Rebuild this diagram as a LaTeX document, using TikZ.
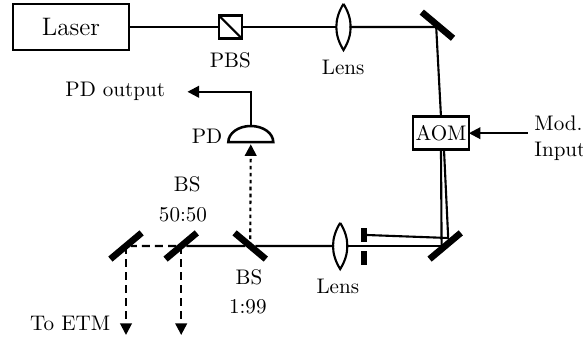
\documentclass[tikz,border=0pt]{standalone}
\usepackage{amsmath}
\usetikzlibrary{arrows.meta,positioning,calc}
\tikzset{
  mirror/.style={draw=none, fill=black, minimum width=0.68cm, minimum height=0.11cm, inner sep=0pt, outer sep=0pt},
  lensbox/.style={minimum width=0.2cm, minimum height=0.77cm, inner sep=0pt, outer sep=0pt},
  devbox/.style={draw, line width=1.2pt, inner sep=0pt, outer sep=0pt},
  beam/.style={line width=1pt},
  sig/.style={line width=1pt, -{Triangle[length=5.5pt,width=5.5pt]}},
  outbeam/.style={sig, dash pattern=on 3.8pt off 2.4pt},
  blocker/.style={draw=none, fill=black, minimum width=0.09cm, minimum height=0.23cm, inner sep=0pt, outer sep=0pt}
}
\begin{document}
\begin{tikzpicture}[scale=1.0]
  \useasboundingbox (0,0) rectangle (9.717,5.7);

  %% Upper line
  \node[devbox, minimum width=1.93cm, minimum height=0.77cm, font=\large] (laser) at (1.183,5.25) {Laser};
  \node[devbox, minimum width=0.38cm, minimum height=0.38cm] (pbs) at (3.84,5.25) {};
  \node[lensbox] (lensA) at (5.725,5.25) {};
  \node[devbox, minimum width=0.93cm, minimum height=0.55cm] (aom) at (7.35,3.48) {AOM};
  \coordinate (hitA) at (7.27,5.25);
  \coordinate (modin) at (8.8,3.48);

  %% Lower line
  \node[lensbox] (lensB) at (5.67,1.6) {};
  \node[blocker] (blockA) at (6.07,1.783) {};
  \node[blocker] (blockB) at (6.07,1.4) {};
  \coordinate (hitB) at (7.36,1.6);
  \coordinate (hitC) at (7.47,1.733);
  \coordinate (etmA) at (2.1,0.117);
  \coordinate (etmB) at (3.02,0.117);

  %% Mirrors and beam splitters
  \foreach \name/\x/\y/\ang in {mirrorA/7.29/5.28/-40, mirrorB/7.42/1.6/40,
                                bsB/4.17/1.6/-40, bsC/3.02/1.6/40, mirrorC/2.1/1.6/40}{
    \node[mirror, rotate=\ang] (\name) at (\x,\y) {};
  }

  %% Detector
  \node[minimum width=0.75cm, minimum height=0.27cm, inner sep=0pt, outer sep=0pt] (pd) at (4.18,3.465) {};
  \draw[line width=1.2pt] (pd.south east) arc[start angle=0, end angle=180, x radius=0.375, y radius=0.27] -- cycle;

  %% Beams
  \draw[beam] (laser) -- (pbs);
  \draw[beam] (pbs) -- (lensA);
  \draw[beam] (lensA) -- (hitA) -- (aom.north);
  \draw[beam] (aom.south) -- (hitB);
  \draw[beam] ([xshift=0.05cm]aom.south) -- (hitC) -- (blockA.east);
  \draw[beam] (hitB) -- (lensB);
  \draw[beam] (lensB) -- (bsB) -- (bsC);

  %% Lens outlines
  \draw[line width=1pt] (lensA.north) to[bend left=32] (lensA.south) to[bend left=32] (lensA.north);
  \draw[line width=1pt] (lensB.north) to[bend left=32] (lensB.south) to[bend left=32] (lensB.north);
  \draw[line width=1pt] (pbs.north west) -- (pbs.south east);

  %% Labels
  \node (pbslabel) at (3.84,4.7) {PBS};
  \node (lenslabelA) at (5.72,4.58) {Lens};
  \node (lenslabelB) at (5.63,0.93) {Lens};
  \node (pdout) at (1.92,4.17) {PD output};
  \node (pdlabel) at (3.45,3.42) {PD};
  \node[anchor=west, inner sep=0pt] (modlabel) at (8.9,3.65) {Mod.};
  \node[anchor=west, inner sep=0pt] (inputlabel) at (8.9,3.17) {Input};
  \node (bslabelA) at (3.12,2.62) {BS};
  \node (ratioA) at (3.05,2.12) {50:50};
  \node (bslabelB) at (4.15,1.083) {BS};
  \node (ratioB) at (4.13,0.583) {1:99};
  \node (etmlabel) at (1.17,0.317) {To ETM};

  %% Signals
  \draw[sig] (pd.north) |- ([xshift=0.25cm]pdout.east);
  \draw[sig] (modin) -- (aom.east);
  \draw[sig, dash pattern=on 1.7pt off 1.6pt, shorten >=1pt] (bsB.center) -- (pd.south);
  \draw[beam, dash pattern=on 3.8pt off 2.4pt] (bsC) -- (mirrorC);
  \draw[outbeam] (mirrorC.center) -- (etmA);
  \draw[outbeam] (bsC.center) -- (etmB);
\end{tikzpicture}
\end{document}
